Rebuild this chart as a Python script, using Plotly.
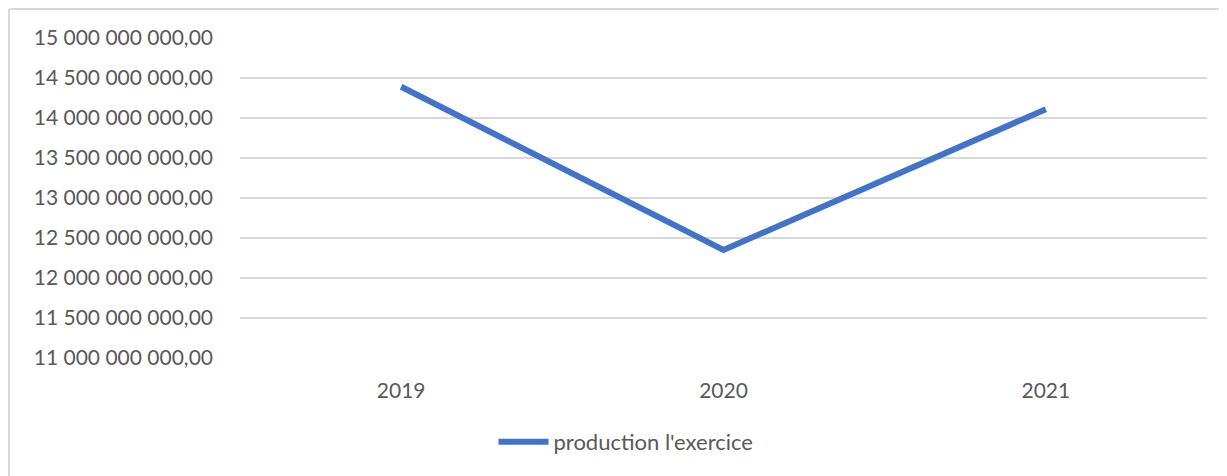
import plotly.graph_objects as go

# Données
annees = ["2019", "2020", "2021"]
production = [14.39e9, 12.35e9, 14.11e9]
graduations = [11e9, 11.5e9, 12e9, 12.5e9, 13e9, 13.5e9, 14e9, 14.5e9, 15e9]


def format_fr(v):
    # format français : espaces pour les milliers, virgule décimale
    return f"{v:,.2f}".replace(",", " ").replace(".", ",")


gris_texte = "#595959"
gris_grille = "#d9d9d9"
bleu = "#4472C4"

# la page ajoute une marge de 8 px autour de la figure
L, T, R, B = 232, 30, 28, 126
W, H = 1227, 476
larg = W - L - R
haut = H - T - B

fig = go.Figure()

fig.add_trace(
    go.Scatter(
        x=annees,
        y=production,
        mode="lines",
        name="production l'exercice",
        line=dict(color=bleu, width=6),
    )
)

fig.update_layout(
    width=W,
    height=H,
    margin=dict(l=L, r=R, t=T, b=B),
    paper_bgcolor="white",
    plot_bgcolor="white",
    font=dict(family="Lato, 'Open Sans', sans-serif", size=21, color=gris_texte),
    showlegend=True,
    legend=dict(
        orientation="h",
        x=(618 - L) / larg,
        xanchor="center",
        y=(T + haut - 434) / haut,
        yanchor="middle",
        font=dict(size=22, color=gris_texte),
        itemwidth=50,
    ),
    xaxis=dict(
        type="category",
        range=[-0.5, 2.5],
        showgrid=False,
        showline=False,
        zeroline=False,
        ticks="",
        ticklabelstandoff=18,
    ),
    yaxis=dict(
        range=[11e9, 15e9],
        tickvals=graduations,
        ticktext=[format_fr(v) for v in graduations],
        showgrid=True,
        gridcolor=gris_grille,
        gridwidth=2,
        showline=False,
        zeroline=False,
        ticks="",
        ticklabelstandoff=26,
    ),
    shapes=[
        # cadre du graphique (haut et gauche)
        dict(type="line", xref="paper", yref="paper",
             x0=(1 - L) / larg, x1=(W - L) / larg,
             y0=(T + haut - 1) / haut, y1=(T + haut - 1) / haut,
             line=dict(color=gris_grille, width=2)),
        dict(type="line", xref="paper", yref="paper",
             x0=(1 - L) / larg, x1=(1 - L) / larg,
             y0=(T + haut - 1) / haut, y1=(T + haut - H) / haut,
             line=dict(color=gris_grille, width=2)),
    ],
)

fig.write_html("out.html")
